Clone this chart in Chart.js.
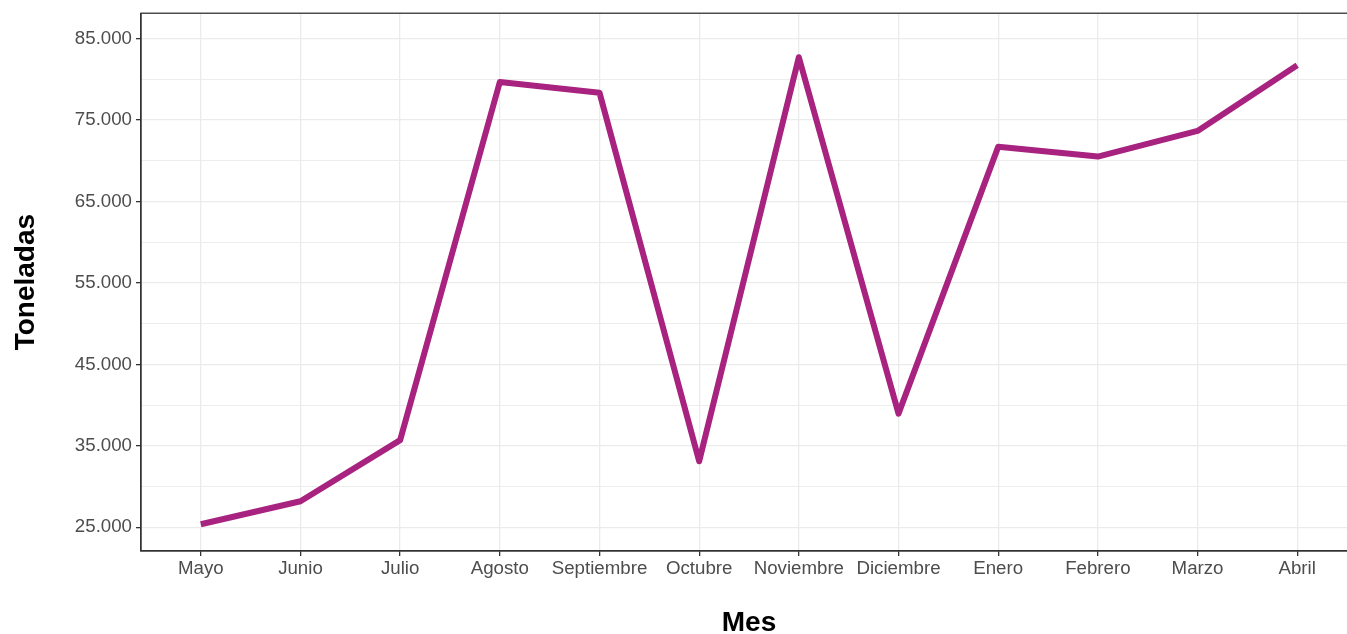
<!DOCTYPE html>
<html>
<head>
<meta charset="utf-8">
<title>Toneladas por mes</title>
<script src="https://cdn.jsdelivr.net/npm/chart.js@4.4.1/dist/chart.umd.min.js"></script>
<style>
    html, body { margin: 0; padding: 0; background: #fff; overflow: hidden; }
    #grafico { display: block; margin-top: -2px; }
</style>
</head>
<body>
<canvas id="grafico" width="1380" height="642"></canvas>
<script>
// datos
var meses = ['Mayo', 'Junio', 'Julio', 'Agosto', 'Septiembre', 'Octubre',
             'Noviembre', 'Diciembre', 'Enero', 'Febrero', 'Marzo', 'Abril'];
var toneladas = [25370, 28200, 35700, 79650, 78350, 33100,
                 82700, 38950, 71700, 70500, 73650, 81700];
var yTicks = [25000, 35000, 45000, 55000, 65000, 75000, 85000];
var yMenores = [30000, 40000, 50000, 60000, 70000, 80000];

var fuente = '"Liberation Sans", Arial, Helvetica, sans-serif';

function miles(v) {
    return String(Math.round(v)).replace(/\B(?=(\d{3})+(?!\d))/g, '.');
}

function esMenor(v) {
    return yMenores.indexOf(v) !== -1;
}

// borde superior y derecho del panel (theme_bw)
var bordePanel = {
    id: 'bordePanel',
    afterDraw: function (chart) {
        var a = chart.chartArea, ctx = chart.ctx;
        ctx.save();
        ctx.strokeStyle = '#333333';
        ctx.lineWidth = 1.3;
        ctx.strokeRect(a.left, a.top, a.right - a.left, a.bottom - a.top);
        ctx.restore();
    }
};

var puntos = [];
for (var i = 0; i < toneladas.length; i++) puntos.push({ x: i, y: toneladas[i] });

new Chart(document.getElementById('grafico'), {
    type: 'line',
    data: {
        datasets: [{
            data: puntos,
            borderColor: '#a8227f',
            borderWidth: 6,
            borderJoinStyle: 'round',
            borderCapStyle: 'butt',
            pointRadius: 0,
            tension: 0,
            fill: false
        }]
    },
    options: {
        responsive: false,
        animation: false,
        devicePixelRatio: 1,
        layout: { padding: { top: 11, right: 23, left: 0, bottom: 0 } },
        plugins: { legend: { display: false }, tooltip: { enabled: false } },
        scales: {
            x: {
                type: 'linear',
                min: -0.6,
                max: meses.length - 1 + 0.6,
                afterBuildTicks: function (s) {
                    s.ticks = meses.map(function (m, i) { return { value: i }; });
                },
                afterFit: function (s) { s.height = 89; },
                ticks: {
                    autoSkip: false,
                    maxRotation: 0,
                    padding: 2,
                    color: '#4d4d4d',
                    font: { family: fuente, size: 18.7 },
                    callback: function (v) { return meses[v]; }
                },
                grid: { color: '#ebebeb', lineWidth: 1.3, tickLength: 5, tickColor: '#333333', tickWidth: 1.3 },
                border: { display: true, color: '#333333', width: 1.3 },
                title: {
                    display: true,
                    text: 'Mes',
                    color: '#000000',
                    font: { family: fuente, size: 28, weight: 'bold' },
                    padding: { top: 0, bottom: 0 }
                }
            },
            y: {
                min: 22090,
                max: 88100,
                afterBuildTicks: function (s) {
                    s.ticks = yTicks.concat(yMenores).sort(function (a, b) { return a - b; })
                        .map(function (v) { return { value: v }; });
                },
                afterFit: function (s) { s.width = 141; },
                ticks: {
                    padding: 4,
                    color: '#4d4d4d',
                    font: { family: fuente, size: 18.7 },
                    callback: function (v) { return esMenor(v) ? '' : miles(v); }
                },
                grid: {
                    color: '#ebebeb',
                    lineWidth: function (c) { return c.tick && esMenor(c.tick.value) ? 0.9 : 1.3; },
                    tickLength: 5,
                    tickWidth: 1.3,
                    tickColor: function (c) { return c.tick && esMenor(c.tick.value) ? 'rgba(0,0,0,0)' : '#333333'; }
                },
                border: { display: true, color: '#333333', width: 1.3 },
                title: {
                    display: true,
                    text: 'Toneladas',
                    color: '#000000',
                    font: { family: fuente, size: 28, weight: 'bold' },
                    padding: { top: 9, bottom: 0 }
                }
            }
        }
    },
    plugins: [bordePanel]
});
</script>
</body>
</html>
